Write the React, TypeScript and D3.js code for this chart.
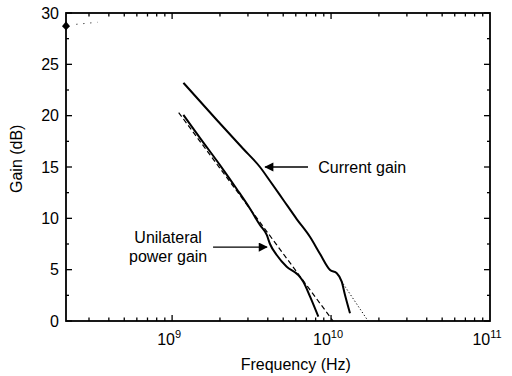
import React from "react";
import * as d3 from "d3";

// frequency (Hz), gain (dB)
const currentGain: [number, number][] = [
  [1.178e9, 23.2], [1.911e9, 19.58], [2.808e9, 16.75], [3.57e9, 15.0], [4.13e9, 13.64],
  [5.01e9, 11.79], [6.08e9, 9.93], [7.38e9, 8.18], [8.53e9, 6.53], [9.86e9, 4.97],
  [1.087e10, 4.65], [1.167e10, 3.83], [1.224e10, 2.53], [1.316e10, 0.75],
];
const powerGain: [number, number][] = [
  [1.178e9, 20.07], [1.5e9, 17.82], [2.0e9, 15.19], [2.55e9, 12.86], [3.1e9, 10.91],
  [3.57e9, 9.35], [3.94e9, 8.38], [4.13e9, 7.5], [4.55e9, 6.43], [5.26e9, 5.29],
  [6.22e9, 4.48], [6.69e9, 3.83], [7.38e9, 2.37], [8.32e9, 0.42],
];
const powerFit: [number, number][] = [[1.1e9, 20.3], [1.03e10, 0]];
const currentExtrap: [number, number][] = [[1.16e10, 3.9], [1.71e10, 0]];
const cornerPoint: [number, number] = [2.15e8, 28.7];
const cornerDots: [number, number][] = [[2.5e8, 28.9], [3.4e8, 29.1]];

const yTicks = d3.range(0, 30.01, 2.5);
const decades = [1e9, 1e10, 1e11];
const decadeExp = ["9", "10", "11"];

const W = 512;
const H = 376;
const margin = { top: 13, right: 22, bottom: 55, left: 66 };

export default function App() {
  const innerW = W - margin.left - margin.right;
  const innerH = H - margin.top - margin.bottom;
  const x = d3.scaleLog().domain([2.15e8, 1e11]).range([0, innerW]);
  const y = d3.scaleLinear().domain([0, 30]).range([innerH, 0]);

  const line = d3.line<[number, number]>(d => x(d[0]), d => y(d[1]));
  const smooth = d3.line<[number, number]>(d => x(d[0]), d => y(d[1])).curve(d3.curveMonotoneX);

  const minorX: number[] = [];
  [1e8, 1e9, 1e10].forEach(d => {
    for (let k = 1; k <= 9; k++) {
      const v = d * k;
      if (v >= 2.15e8 && v <= 1e11) minorX.push(v);
    }
  });

  const font = "'Liberation Sans', Arial, sans-serif";

  return (
    <svg width={W} height={H} style={{ position: "absolute", left: 0, top: 0, background: "#fff" }} fontFamily={font}>
      <g transform={`translate(${margin.left},${margin.top})`}>
        {/* y ticks, left and right, inward */}
        {yTicks.map(t => {
          const major = t % 5 === 0;
          const len = major ? 6 : 3;
          return (
            <g key={"y" + t}>
              <line x1={0} x2={len} y1={y(t)} y2={y(t)} stroke="#000" strokeWidth={1.3} />
              <line x1={innerW} x2={innerW - len} y1={y(t)} y2={y(t)} stroke="#000" strokeWidth={1.3} />
              {major && (
                <text x={-7} y={y(t)} dy="0.36em" textAnchor="end" fontSize={16}>{t}</text>
              )}
            </g>
          );
        })}
        {/* x ticks */}
        {minorX.map((v, i) => {
          const major = decades.includes(v);
          const len = major ? 6 : 3.5;
          return (
            <g key={"x" + i}>
              <line x1={x(v)} x2={x(v)} y1={innerH} y2={innerH - len} stroke="#000" strokeWidth={1.3} />
              <line x1={x(v)} x2={x(v)} y1={0} y2={len} stroke="#000" strokeWidth={1.3} />
            </g>
          );
        })}
        {decades.map((d, i) => (
          <text key={"dl" + d} x={x(d) - 3} y={innerH + 24} textAnchor="middle" fontSize={16}>
            10<tspan dy={-7} fontSize={11}>{decadeExp[i]}</tspan>
          </text>
        ))}

        {/* frame */}
        <rect x={0} y={0} width={innerW} height={innerH} fill="none" stroke="#000" strokeWidth={1.8} />

        {/* curves */}
        <path d={line(powerFit) ?? ""} fill="none" stroke="#000" strokeWidth={1.2} strokeDasharray="5,3" />
        <path d={line(currentExtrap) ?? ""} fill="none" stroke="#000" strokeWidth={1} strokeDasharray="1.2,2.2" />
        <path d={line(cornerDots) ?? ""} fill="none" stroke="#000" strokeWidth={1} strokeDasharray="1,6" />
        <path d={smooth(currentGain) ?? ""} fill="none" stroke="#000" strokeWidth={2} strokeLinejoin="round" />
        <path d={smooth(powerGain) ?? ""} fill="none" stroke="#000" strokeWidth={2} strokeLinejoin="round" />
        <path
          d={`M${x(cornerPoint[0])},${y(cornerPoint[1]) - 5}l4,5l-4,4l-4,-4z`}
          fill="#000"
        />

        {/* annotations */}
        <defs>
          <marker id="ah" viewBox="0 0 10 10" refX={9} refY={5} markerWidth={9} markerHeight={7} orient="auto">
            <path d="M0,0L10,5L0,10z" fill="#000" />
          </marker>
        </defs>
        <line x1={x(7.16e9)} x2={x(3.85e9)} y1={y(15.0)} y2={y(15.0)} stroke="#000" strokeWidth={1.3} markerEnd="url(#ah)" />
        <text x={x(8.3e9)} y={y(15.0)} dy="0.36em" fontSize={16}>Current gain</text>

        <line x1={x(1.81e9)} x2={x(3.95e9)} y1={y(7.2)} y2={y(7.2)} stroke="#000" strokeWidth={1.3} markerEnd="url(#ah)" />
        <text x={x(9.44e8)} y={y(8.2)} dy="0.36em" textAnchor="middle" fontSize={16}>Unilateral</text>
        <text x={x(9.44e8)} y={y(6.3)} dy="0.36em" textAnchor="middle" fontSize={16}>power gain</text>

        {/* axis titles */}
        <text x={x(6.0e9)} y={innerH + 49} textAnchor="middle" fontSize={16}>Frequency (Hz)</text>
        <text transform={`translate(${-44},${y(15.8)}) rotate(-90)`} textAnchor="middle" fontSize={16}>Gain (dB)</text>
      </g>
    </svg>
  );
}
